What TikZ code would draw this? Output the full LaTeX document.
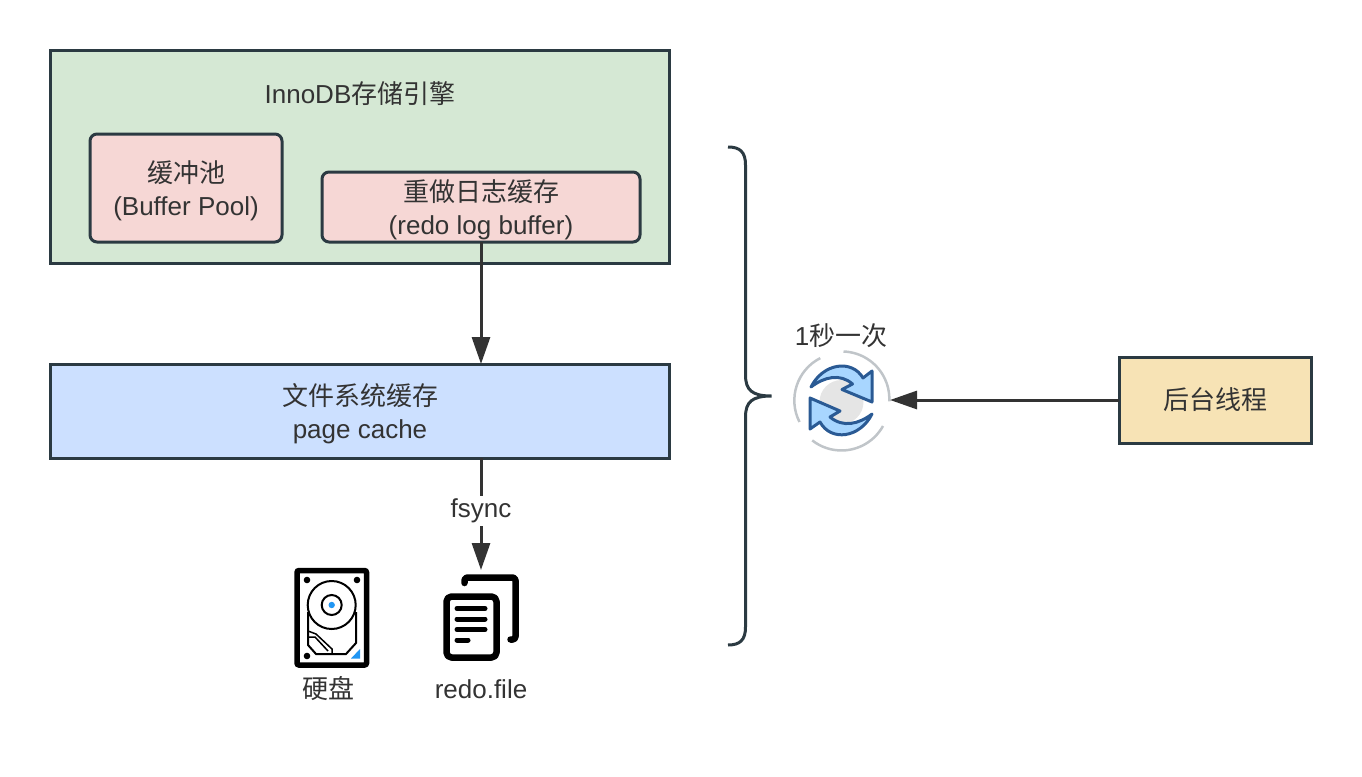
\documentclass[tikz,border=0pt]{standalone}
\usepackage{fontspec}
\setmainfont{Liberation Sans}
\newfontfamily\zhfont{Noto Sans CJK SC}
\newcommand{\zh}[1]{{\zhfont #1}}
\newcommand{\toppad}{\rule{0pt}{28pt}}
\usetikzlibrary{arrows.meta}
\definecolor{inkline}{HTML}{2B3A42}
\definecolor{inktext}{HTML}{333333}
\definecolor{enginefill}{HTML}{D5E8D4}
\definecolor{bufferfill}{HTML}{F6D7D5}
\definecolor{cachefill}{HTML}{CCE0FF}
\definecolor{threadfill}{HTML}{F7E3B5}
\definecolor{ringgrey}{HTML}{C0C5C9}
\definecolor{syncblue}{HTML}{A8D6FF}
\definecolor{syncline}{HTML}{2A5A94}
\definecolor{diskblue}{HTML}{2196F3}

\begin{document}
\begin{tikzpicture}[x=1pt, y=-1pt,
  label/.style={text=inktext, font=\fontsize{26}{33}\selectfont, align=center, inner sep=0pt},
  block/.style={draw=inkline, line width=3pt, label, outer sep=0pt},
  buffer/.style={block, fill=bufferfill, rounded corners=7pt},
  flow/.style={draw=inktext, line width=3pt, -{Stealth[length=27pt, width=18pt, inset=0pt]}},
  icon/.style={line width=6.5pt, line join=round, line cap=round}]
  \useasboundingbox (0,0) rectangle (1362,776);
  % storage engine
  \node[block, fill=enginefill, minimum width=619.5pt, minimum height=213.5pt] (engine) at (360,157) {};
  \node[label] (enginetitle) at (360,94) {InnoDB\zh{存储引擎}};
  \node[buffer, minimum width=192pt, minimum height=108pt] (pool) at (186,188) {\toppad\zh{缓冲池}\\(Buffer Pool)};
  \node[buffer, minimum width=318pt, minimum height=70pt] (redobuf) at (481,207) {\toppad\zh{重做日志缓存}\\(redo log buffer)};
  \node[block, fill=cachefill, minimum width=619.5pt, minimum height=94pt] (cache) at (360,411) {\toppad\zh{文件系统缓存}\\page cache};
  \node[block, fill=threadfill, minimum width=192.5pt, minimum height=86pt] (thread) at (1215.5,400) {\zh{后台线程}};
  \draw[flow] (redobuf.south) -- (redobuf.south |- cache.north);
  \coordinate (filetop) at (redobuf.south |- 0,570);
  \draw[flow] (redobuf.south |- cache.south) -- node[pos=.47, label, fill=white, inner ysep=3pt] (fsync) {fsync} (filetop);
  % disk icon
  \node[label] (disklabel) at (328,689) {\zh{硬盘}};
  \draw[line width=5.5pt, rounded corners=2pt] (297,570.5) rectangle (366.5,665);
  \fill (307,580) circle (3.3pt) (357,580) circle (3.3pt) (307,656) circle (3.3pt);
  \draw[line width=2pt] (331.7,605) circle (24pt) (331.7,605) circle (10pt);
  \fill[diskblue] (331.7,605) circle (3.2pt);
  \draw[line width=2pt] (308,612) -- (308,645) -- (316,654) -- (346,654) -- (356,643) -- (356,612);
  \draw[line width=1.5pt] (308,631) -- (316,634) -- (332,649) -- (332,654) (309,637) -- (315,637) -- (328,651);
  \fill[diskblue] (351,658.5) -- (360,658.5) -- (360,649) -- cycle;
  % file icon
  \node[label] (filelabel) at (481,689) {redo.file};
  \draw[icon, rounded corners=3pt] (464.5,583) -- (464.5,577.5) -- (515.5,577.5) -- (515.5,639.5) -- (510.5,639.5);
  \draw[icon, rounded corners=5pt] (446.5,596.5) rectangle (496.5,657.5);
  \draw[icon, line width=5pt] (457,608.5) -- (485,608.5) (457,619) -- (485,619) (457,629.5) -- (485,629.5) (457,640) -- (468,640);
  % brace
  \draw[inkline, line width=3pt] (728,147) .. controls (740,147) and (745.5,152) .. (745.5,165) -- (745.5,375)
    .. controls (745.5,390) and (752,396) .. (771.5,396) .. controls (752,396) and (745.5,402) .. (745.5,417)
    -- (745.5,627) .. controls (745.5,640) and (740,645) .. (728,645);
  % sync icon
  \node[label] (synclabel) at (841,336) {1\zh{秒一次}};
  \coordinate (synceast) at (890,400);
  \fill[black!10] (841.5,402) circle (22pt);
  \draw[ringgrey, line width=2.5pt] (843.5,351.5) arc (88:-3:47.5pt);
  \draw[ringgrey, line width=2.5pt] (883,426) arc (-29:-128:47.5pt);
  \draw[ringgrey, line width=2.5pt] (799.5,422) arc (207:117:47.5pt);
  \draw[syncline, fill=syncblue, line width=3pt, line join=round] (811,387) .. controls (823,363) and (852,359) .. (863,378)
    -- (872,371) -- (872,402) -- (842,389.5) -- (852.5,384) .. controls (840,373) and (824,377) .. (811,387) -- cycle;
  \draw[syncline, fill=syncblue, line width=3pt, line join=round] (872,414) .. controls (860,438) and (831,442) .. (820,422)
    -- (810,429) -- (810,398) -- (840,411) -- (830,417) .. controls (843,428) and (859,424) .. (872,414) -- cycle;
  \draw[flow] (thread.west) -- (synceast);
\end{tikzpicture}
\end{document}
